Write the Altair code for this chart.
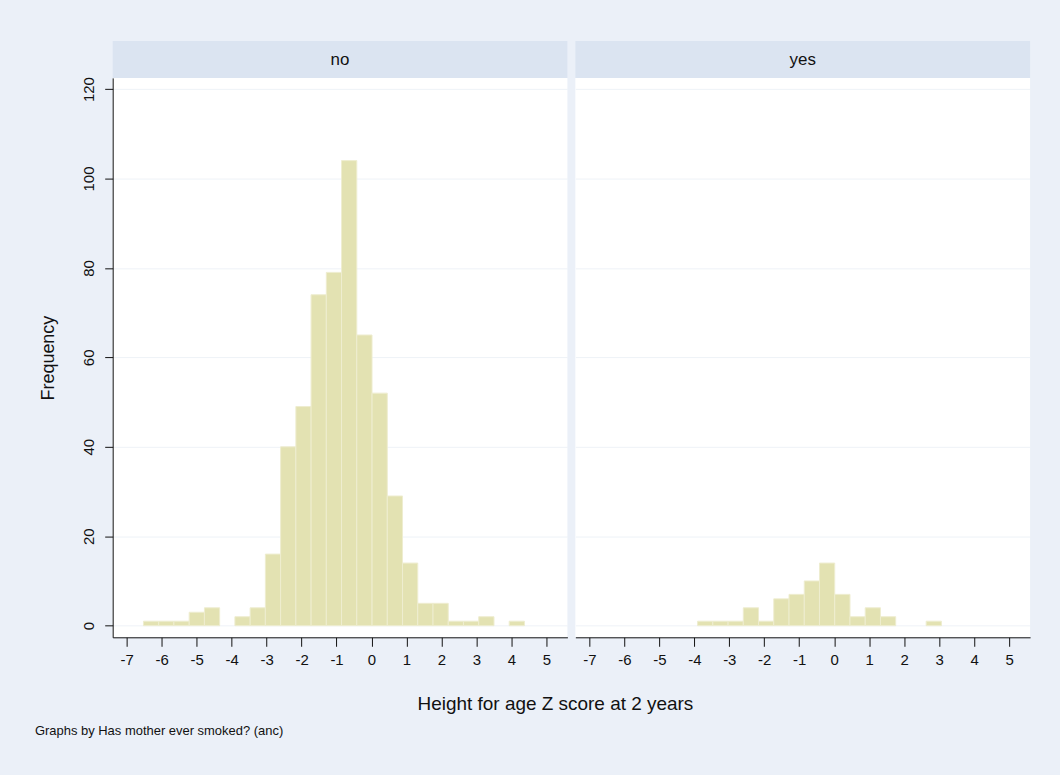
import altair as alt
import pandas as pd

# ---- data ----
bin_lo = [-6.520, -6.084, -5.649, -5.213, -4.777, -4.342, -3.906, -3.470, -3.035,
          -2.599, -2.163, -1.728, -1.292, -0.856, -0.421, 0.015, 0.451, 0.887,
          1.322, 1.758, 2.194, 2.629, 3.065, 3.501, 3.936]
bin_hi = [-6.084, -5.649, -5.213, -4.777, -4.342, -3.906, -3.470, -3.035, -2.599,
          -2.163, -1.728, -1.292, -0.856, -0.421, 0.015, 0.451, 0.887, 1.322,
          1.758, 2.194, 2.629, 3.065, 3.501, 3.936, 4.372]
no_counts = [1, 1, 1, 3, 4, 0, 2, 4, 16, 40, 49, 74, 79, 104, 65, 52, 29, 14,
             5, 5, 1, 1, 2, 0, 1]
yes_counts = [0, 0, 0, 0, 0, 0, 1, 1, 1, 4, 1, 6, 7, 10, 14, 7, 2, 4,
              2, 0, 0, 1, 0, 0, 0]
panel_labels = ["no", "yes"]
x_ticks = [-7, -6, -5, -4, -3, -2, -1, 0, 1, 2, 3, 4, 5]
y_ticks = [0, 20, 40, 60, 80, 100, 120]
x_title = "Height for age Z score at 2 years"
note = "Graphs by Has mother ever smoked? (anc)"

FONT = "Liberation Sans"
W, H = 456, 561
BAR = "#e3e2b2"
BAR_EDGE = "#eeedd0"
STRIP = "#dbe4f1"
BG = "#ebf0f8"
GRID = "#eef2f7"


def panel(label, counts, left):
    df = pd.DataFrame({"lo": bin_lo, "hi": bin_hi, "n": counts})
    df = df[df["n"] > 0]
    if left:
        yaxis = alt.Axis(values=y_ticks, title="Frequency", labelAngle=270,
                         labelFont=FONT, labelFontSize=15, labelColor="#111",
                         labelPadding=8, tickSize=8, tickColor="#111",
                         domainColor="#111", titleFont=FONT, titleFontSize=18,
                         titleFontWeight="normal", titleColor="#111",
                         titlePadding=24, grid=True, gridColor=GRID)
    else:
        yaxis = alt.Axis(values=y_ticks, title=None, labels=False, ticks=False,
                         domain=False, grid=True, gridColor=GRID)
    xaxis = alt.Axis(values=x_ticks, title=None, labelExpr="datum.value",
                     labelFont=FONT, labelFontSize=15, labelColor="#111",
                     labelPadding=6, tickSize=9, tickColor="#111",
                     domainColor="#111", grid=False)
    bars = alt.Chart(df).mark_bar(color=BAR, stroke=BAR_EDGE, strokeWidth=1).encode(
        x=alt.X("lo:Q", scale=alt.Scale(domain=[-7.4, 5.6], nice=False, zero=False),
                axis=xaxis),
        x2="hi:Q",
        y=alt.Y("n:Q", scale=alt.Scale(domain=[-2.6, 122.5], nice=False, zero=False),
                axis=yaxis),
        y2=alt.datum(0),
    )
    lab = pd.DataFrame({"t": [label]})
    strip = alt.Chart(lab).mark_rect(color=STRIP).encode(
        x=alt.value(0), x2=alt.value(W), y=alt.value(-37), y2=alt.value(0))
    strip_text = alt.Chart(lab).mark_text(font=FONT, fontSize=17, color="#111").encode(
        text="t:N", x=alt.value(W / 2), y=alt.value(-18))
    layers = [strip, strip_text, bars]
    if left:
        t1 = alt.Chart(pd.DataFrame({"t": [x_title]})).mark_text(
            font=FONT, fontSize=19, color="#111").encode(
            text="t:N", x=alt.value(444), y=alt.value(628))
        t2 = alt.Chart(pd.DataFrame({"t": [note]})).mark_text(
            font=FONT, fontSize=13, color="#111", align="left").encode(
            text="t:N", x=alt.value(-78), y=alt.value(655))
        layers += [t1, t2]
    return alt.layer(*layers).properties(width=W, height=H)


chart = alt.hconcat(
    panel(panel_labels[0], no_counts, True),
    panel(panel_labels[1], yes_counts, False),
    spacing=8,
    bounds="flush",
).properties(
    background=BG,
    padding={"left": 35, "top": 40, "right": 30, "bottom": 40},
).configure_view(fill="white", stroke=None)

chart.save("out.html", embed_options={"renderer": "svg", "actions": False})
